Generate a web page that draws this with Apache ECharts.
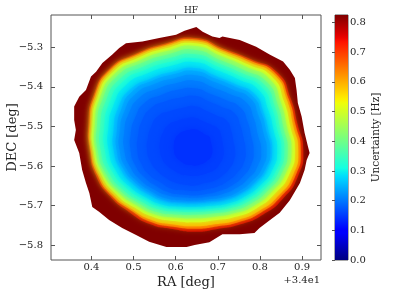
<!DOCTYPE html>
<html>
<head>
<meta charset="utf-8">
<script src="https://cdn.jsdelivr.net/npm/echarts@6/dist/echarts.min.js"></script>
<style>
html,body{margin:0;padding:0;background:#fff;}
#c{width:409px;height:307px;}
</style>
</head>
<body>
<div id="c"></div>
<script>
// ---------------- data ----------------
const RA_TICKS = [0.4, 0.5, 0.6, 0.7, 0.8, 0.9];
const DEC_TICKS = [-5.8, -5.7, -5.6, -5.5, -5.4, -5.3];
const CBAR_TICKS = [0.0, 0.1, 0.2, 0.3, 0.4, 0.5, 0.6, 0.7, 0.8];
const CBAR_MAX = 0.825;

// outer edge of the map (RA, DEC)
const OUTER = [
[0.649,-5.249],[0.664,-5.261],[0.687,-5.273],[0.704,-5.277],[0.711,-5.273],[0.752,-5.282],[0.791,-5.299],[0.824,-5.319],[0.855,-5.336],[0.871,-5.357],[0.883,-5.378],[0.887,-5.408],[0.890,-5.441],[0.899,-5.475],[0.906,-5.516],[0.914,-5.551],[0.918,-5.567],[0.911,-5.585],[0.906,-5.610],[0.895,-5.643],[0.871,-5.686],[0.847,-5.718],[0.824,-5.736],[0.799,-5.756],[0.787,-5.769],[0.752,-5.772],[0.711,-5.772],[0.680,-5.792],[0.645,-5.799],[0.626,-5.804],[0.578,-5.804],[0.537,-5.791],[0.506,-5.774],[0.473,-5.756],[0.442,-5.736],[0.418,-5.715],[0.402,-5.703],[0.395,-5.668],[0.387,-5.643],[0.378,-5.610],[0.371,-5.567],[0.359,-5.534],[0.363,-5.509],[0.359,-5.484],[0.359,-5.450],[0.371,-5.425],[0.387,-5.408],[0.399,-5.374],[0.411,-5.362],[0.426,-5.340],[0.449,-5.319],[0.466,-5.302],[0.482,-5.290],[0.521,-5.286],[0.561,-5.277],[0.601,-5.269],[0.621,-5.259]
];

// contours of uncertainty: centre (RA, DEC), directions (deg), radii in 0.001 deg
const CENTER = [0.646, -5.56];
const ANGLES = [0,15,30,45,60,75,90,105,120,135,150,165,180,195,210,225,240,255,270,285,300,315,330,345];
const LEVELS = [0.80, 0.72, 0.64, 0.56, 0.49, 0.43, 0.38, 0.34, 0.31, 0.28, 0.255, 0.235, 0.215, 0.195, 0.18, 0.168, 0.158, 0.15];
const R_080  = [257,252,262,277,265,265,283,278,281,289,278,262,250,244,233,221,215,206,206,206,216,229,242,253];
const R_072  = [251,247,257,272,261,261,279,275,278,286,275,259,248,240,229,215,209,200,198,199,209,222,235,247];
const R_064  = [245,241,252,267,256,257,275,271,274,282,271,255,244,236,224,211,204,194,192,193,203,216,229,241];
const R_056  = [237,234,244,260,250,252,270,266,269,277,267,252,241,231,218,204,195,185,182,183,194,207,219,232];
const R_049  = [229,226,236,252,243,245,263,259,262,271,261,246,236,226,211,196,187,176,172,174,184,198,210,223];
const R_043  = [220,217,227,242,233,235,253,250,254,263,254,241,231,220,205,189,180,168,163,165,176,189,201,214];
const R_038  = [212,209,219,233,224,226,242,240,244,253,245,233,224,213,198,182,172,160,155,158,168,181,193,206];
const R_034  = [205,202,211,224,215,217,232,230,234,243,235,223,214,204,189,174,165,154,149,152,162,174,186,199];
const R_031  = [195,193,201,214,206,208,222,220,224,232,224,213,205,195,181,167,158,147,143,145,155,166,178,190];
const R_028  = [183,181,188,200,192,193,207,205,209,217,211,200,193,183,170,157,148,138,134,136,145,156,167,178];
const R_0255 = [179,176,183,193,186,187,200,198,202,210,203,192,186,177,164,152,145,135,131,133,142,153,163,174];
const R_0235 = [170,168,174,185,177,178,189,188,193,200,194,185,179,170,158,147,140,131,127,128,137,147,156,166];
const R_0215 = [157,154,161,171,164,164,175,175,179,187,182,174,168,160,150,139,131,123,120,121,128,136,145,154];
const R_0195 = [139,138,144,152,146,146,156,158,161,169,164,158,153,147,138,129,123,116,114,114,118,125,132,138];
const R_018  = [120,119,124,132,126,127,137,137,142,149,146,140,137,132,125,115,112,104,103,102,106,110,115,120];
const R_0168 = [95,94,99,106,101,103,111,111,115,123,120,116,114,110,104,98,94,90,89,86,89,91,94,96];
const R_0158 = [68,68,72,77,75,75,82,83,86,90,88,86,83,81,77,72,70,66,65,64,65,68,68,69];
const R_015  = [41,41,43,48,46,49,53,53,55,56,55,52,50,49,46,43,42,39,39,38,39,39,41,41];
// value shown inside each region (outer region first)
const FILL = [0.825, 0.765, 0.68, 0.60, 0.525, 0.46, 0.405, 0.36, 0.325, 0.295, 0.268, 0.245, 0.225, 0.205, 0.187, 0.174, 0.163, 0.154, 0.143];

// ---------------- build ----------------
const RADII = [R_080,R_072,R_064,R_056,R_049,R_043,R_038,R_034,R_031,R_028,R_0255,R_0235,R_0215,R_0195,R_018,R_0168,R_0158,R_015];
const POLYS = [OUTER].concat(RADII.map(rs => rs.map((r, k) => {
  const a = ANGLES[k] * Math.PI / 180;
  return [CENTER[0] + r / 1000 * Math.cos(a), CENTER[1] + r / 1000 * Math.sin(a)];
})));

// matplotlib "jet"
const JR = [[0,0],[0.35,0],[0.66,1],[0.89,1],[1,0.5]];
const JG = [[0,0],[0.125,0],[0.375,1],[0.64,1],[0.91,0],[1,0]];
const JB = [[0,0.5],[0.11,1],[0.34,1],[0.65,0],[1,0]];
function seg(s, t){ for(let i=1;i<s.length;i++){ if(t<=s[i][0]){ const a=s[i-1],b=s[i]; return a[1]+(b[1]-a[1])*(t-a[0])/(b[0]-a[0]); } } return s[s.length-1][1]; }
function jet(t){ const c=[seg(JR,t),seg(JG,t),seg(JB,t)].map(v=>Math.round(v*255)); return 'rgb('+c.join(',')+')'; }
const JET = []; for(let i=0;i<=64;i++) JET.push(jet(i/64));

const FONT = 'DejaVu Serif';
const TXT = '#222';
const FRAME = '#555';
const fmt = v => (v < 0 ? '\u2212' : '') + Math.abs(v).toFixed(1);

const chart = echarts.init(document.getElementById('c'), null, {renderer:'canvas'});
chart.setOption({
  animation: false,
  title: { text: 'HF', left: 186, top: 1, textAlign: 'center',
           textStyle: { fontFamily: FONT, fontSize: 9, fontWeight: 'normal', color: TXT } },
  grid: [
    { left: 51, top: 15, width: 270, height: 245, show: true, borderColor: FRAME, borderWidth: 1,
      backgroundColor: '#fff', outerBoundsMode: 'none', containLabel: false },
    { left: 335, top: 15, width: 13, height: 245, show: true, borderColor: FRAME, borderWidth: 1,
      outerBoundsMode: 'none', containLabel: false }
  ],
  xAxis: [
    { gridIndex: 0, type: 'value', min: 0.304, max: 0.945, position: 'bottom',
      axisLine: { show: false }, splitLine: { show: false },
      axisTick: { inside: true, length: 4, customValues: RA_TICKS, lineStyle: { color: FRAME } },
      axisLabel: { customValues: RA_TICKS, formatter: fmt, margin: 2, fontFamily: FONT, fontSize: 10, color: TXT },
      name: 'RA [deg]', nameLocation: 'middle', nameGap: 16, nameMoveOverlap: false,
      nameTextStyle: { fontFamily: FONT, fontSize: 13, color: TXT } },
    { gridIndex: 0, type: 'value', min: 0.304, max: 0.945, position: 'top',
      axisLine: { show: false }, splitLine: { show: false }, axisLabel: { show: false },
      axisTick: { inside: true, length: 4, customValues: RA_TICKS, lineStyle: { color: FRAME } } },
    { gridIndex: 1, type: 'value', min: 0, max: 1, show: false }
  ],
  yAxis: [
    { gridIndex: 0, type: 'value', min: -5.837, max: -5.219, position: 'left',
      axisLine: { show: false }, splitLine: { show: false },
      axisTick: { inside: true, length: 4, customValues: DEC_TICKS, lineStyle: { color: FRAME } },
      axisLabel: { customValues: DEC_TICKS, formatter: fmt, margin: 8, fontFamily: FONT, fontSize: 10, color: TXT },
      name: 'DEC [deg]', nameLocation: 'middle', nameGap: 32, nameMoveOverlap: false,
      nameTextStyle: { fontFamily: FONT, fontSize: 13, color: TXT } },
    { gridIndex: 0, type: 'value', min: -5.837, max: -5.219, position: 'right',
      axisLine: { show: false }, splitLine: { show: false }, axisLabel: { show: false },
      axisTick: { inside: true, length: 4, customValues: DEC_TICKS, lineStyle: { color: FRAME } } },
    { gridIndex: 1, type: 'value', min: 0, max: CBAR_MAX, position: 'right',
      axisLine: { show: false }, splitLine: { show: false },
      axisTick: { inside: true, length: 3, customValues: CBAR_TICKS, lineStyle: { color: FRAME } },
      axisLabel: { customValues: CBAR_TICKS, formatter: fmt, margin: 2, fontFamily: FONT, fontSize: 10, color: TXT },
      name: 'Uncertainty [Hz]', nameLocation: 'middle', nameGap: 23, nameMoveOverlap: false,
      nameTextStyle: { fontFamily: FONT, fontSize: 10.5, color: TXT } }
  ],
  visualMap: { type: 'continuous', show: false, min: 0, max: CBAR_MAX, dimension: 1, seriesIndex: 0,
               inRange: { color: JET } },
  graphic: [
    { type: 'text', right: 89, top: 275, style: { text: '+3.4e1', font: '10px "DejaVu Serif"', fill: TXT } }
  ],
  series: [
    { type: 'custom', xAxisIndex: 0, yAxisIndex: 0, clip: true,
      data: POLYS.map((p, i) => [i, FILL[i]]),
      encode: { x: -1, y: -1 },
      renderItem: function (params, api) {
        const i = api.value(0);
        const pts = POLYS[i].map(p => api.coord(p));
        const c = api.visual('color');
        return { type: 'polygon', shape: { points: pts, smooth: i === 0 ? 0 : 0.6 },
                 style: { fill: c, stroke: null,
                          shadowBlur: i >= 3 ? 8 : 0, shadowColor: i >= 3 ? c : 'transparent' } };
      } },
    { type: 'custom', xAxisIndex: 2, yAxisIndex: 2,
      data: [[0, CBAR_MAX]],
      encode: { x: -1, y: -1 },
      renderItem: function (params, api) {
        const p0 = api.coord([0, 0]);
        const p1 = api.coord([1, api.value(1)]);
        const stops = JET.map((c, i) => ({ offset: i / (JET.length - 1), color: c }));
        return { type: 'rect', shape: { x: p0[0], y: p1[1], width: p1[0] - p0[0], height: p0[1] - p1[1] },
                 style: { fill: { type: 'linear', x: 0, y: 1, x2: 0, y2: 0, colorStops: stops } } };
      } }
  ]
});
</script>
</body>
</html>
